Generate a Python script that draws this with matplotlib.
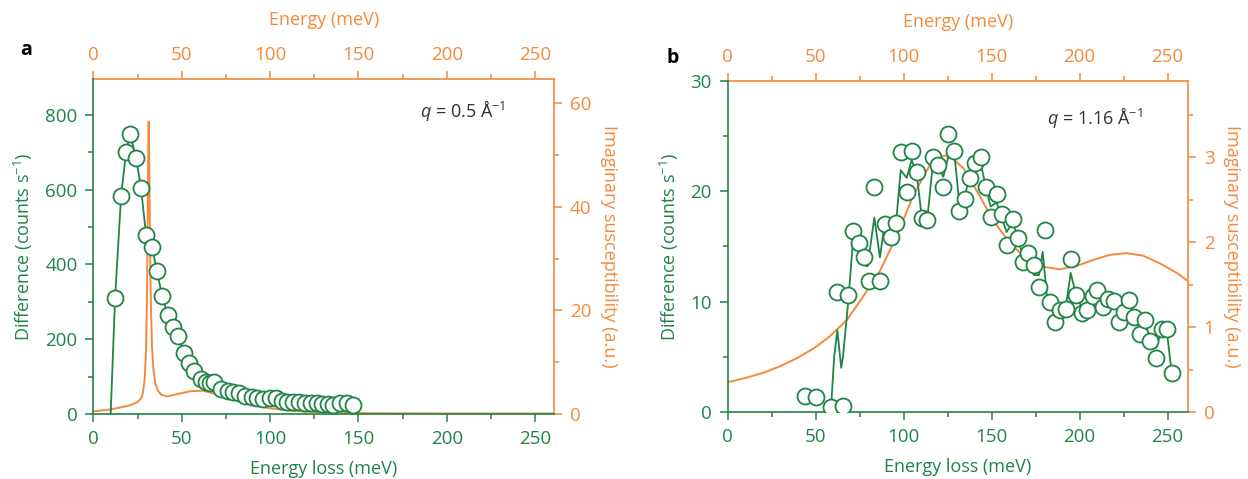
import matplotlib
matplotlib.use('Agg')
import matplotlib.pyplot as plt
from matplotlib.ticker import MultipleLocator

plt.rcParams['font.family'] = ['Open Sans', 'DejaVu Sans']
plt.rcParams['mathtext.fontset'] = 'custom'
plt.rcParams['mathtext.it'] = 'Open Sans:italic'
plt.rcParams['mathtext.rm'] = 'Open Sans'

GREEN = '#1f8445'
ORANGE = '#f5893a'
GREY = '#333333'

# ---- panel a: q = 0.5 1/A ----
a_energy = [12.3, 15.7, 18.5, 20.8, 24.2, 27.0, 29.8, 33.2, 36.0, 38.9,
            42.1, 45.3, 48.1, 51.3, 54.3, 57.2, 60.8, 63.8, 66.2, 68.0,
            72.1, 76.4, 79.0, 82.6, 85.9, 89.6, 92.5, 96.2, 100.0, 103.4,
            106.6, 109.8, 113.2, 116.6, 119.8, 123.0, 126.4, 129.3, 133.0, 135.9,
            139.6, 143.4, 147.1]
a_counts = [310, 583, 700, 749, 684, 604, 479, 447, 382, 316,
            264, 233, 208, 162, 137, 116, 93, 86, 84, 86,
            66, 62, 59, 55, 48, 46, 42, 39, 42, 42,
            36, 33, 33, 33, 30, 30, 30, 27, 27, 24,
            30, 29, 24]
# green line starts at the onset below the first point
a_line_energy = [9.8] + a_energy
a_line_counts = [0] + a_counts

a_chi_energy = [0, 10, 20, 25, 27, 28, 29, 29.8, 30.4, 30.8, 31.1, 31.3, 31.6,
                32.0, 32.5, 33.2, 34.0, 35.0, 36.5, 38.5, 42, 48, 55, 62, 70,
                80, 90, 100, 110, 120, 140, 160, 200, 261]
a_chi = [0.5, 0.9, 1.6, 2.3, 3.0, 4.0, 6.5, 12, 24, 40, 52, 56.5, 50,
         36, 22, 13, 8.5, 6.0, 4.5, 3.7, 3.4, 3.9, 4.4, 4.5, 3.8,
         2.7, 1.7, 1.1, 0.7, 0.45, 0.25, 0.15, 0.1, 0.1]

# ---- panel b: q = 1.16 1/A ----
b_energy = [43.9, 50.2, 58.7, 62.3, 65.5, 68.5, 71.4, 74.6, 77.4, 80.5,
            83.3, 86.5, 89.4, 92.6, 95.6, 98.3, 101.7, 104.5, 107.4, 110.2,
            113.4, 116.8, 119.7, 122.5, 125.3, 128.8, 131.6, 134.8, 137.7, 140.5,
            143.8, 146.8, 149.4, 152.8, 155.7, 158.5, 161.9, 165.1, 167.6, 170.8,
            174.0, 176.9, 180.3, 183.1, 186.0, 188.8, 192.2, 194.9, 197.9, 201.1,
            204.3, 207.4, 210.0, 213.1, 216.3, 219.5, 222.5, 225.3, 228.2, 230.9,
            234.3, 237.1, 239.9, 243.4, 246.6, 249.4, 252.3]
b_counts = [1.45, 1.36, 0.45, 10.84, 0.54, 10.57, 16.42, 15.28, 14.07, 11.89,
            20.41, 11.89, 17.03, 15.88, 17.09, 23.58, 19.95, 23.67, 21.77, 17.55,
            17.39, 23.07, 22.37, 20.35, 25.18, 23.67, 18.23, 19.26, 21.17, 22.53,
            23.07, 20.35, 17.69, 19.75, 17.93, 15.13, 17.45, 15.79, 13.61, 14.37,
            13.32, 11.29, 16.49, 9.99, 8.18, 9.24, 9.30, 13.83, 10.6, 8.94,
            9.24, 10.51, 11.05, 9.54, 10.21, 10.08, 8.12, 9.09, 10.14, 8.63,
            7.07, 8.33, 6.43, 4.86, 7.49, 7.49, 3.5]
# smoothed guide line as drawn in the figure (starts at 58.7 meV)
b_line_energy = [58.7, 60.5, 62.3, 64.5, 65.5, 68.5, 71.4, 74.6, 77.4, 79.5,
                 83.3, 86.5, 89.4, 92.6, 95.6, 98.3, 101.7, 104.5, 107.4, 110.2,
                 113.4, 116.8, 119.7, 122.5, 125.3, 128.8, 131.6, 134.8, 137.7, 140.5,
                 143.8, 146.8, 149.4, 152.8, 155.7, 158.5, 161.9, 165.1, 167.6, 170.8,
                 174.0, 176.9, 179.0, 181.6, 183.1, 186.0, 188.8, 192.2, 194.9, 197.9,
                 201.1, 204.3, 207.4, 210.0, 213.1, 216.3, 219.5, 222.5, 225.3, 228.2,
                 230.9, 234.3, 237.1, 239.9, 243.4, 246.6, 249.4, 252.3]
b_line_counts = [0.3, 5.0, 7.4, 4.0, 5.0, 10.0, 15.9, 15.0, 13.3, 13.2,
                 17.6, 14.0, 17.3, 16.5, 17.0, 21.9, 21.2, 22.8, 21.6, 17.7,
                 17.5, 22.8, 22.2, 21.3, 23.1, 23.4, 18.9, 19.6, 21.5, 22.0,
                 22.5, 20.3, 18.6, 19.0, 17.6, 16.3, 17.2, 15.7, 14.1, 14.3,
                 12.4, 12.4, 14.5, 10.1, 10.0, 9.2, 9.3, 9.6, 12.6, 10.6,
                 9.5, 9.6, 10.4, 10.6, 9.8, 10.1, 9.9, 9.0, 9.2, 9.8,
                 8.8, 7.6, 7.9, 6.8, 5.8, 7.4, 7.5, 3.5]

b_chi_energy = [0, 10, 20, 30, 39, 49, 58, 67.6, 77, 86.5, 96, 105.5,
                114.9, 119, 123.5, 128, 133.9, 143.3, 150.9, 160.4, 169.9, 179.3, 188.8,
                198.3, 207.7, 217.2, 226.6, 236.1, 245.5, 255, 261.6]
b_chi = [0.35, 0.40, 0.46, 0.54, 0.63, 0.75, 0.89, 1.08, 1.36, 1.66, 2.07, 2.55,
         2.91, 2.99, 3.02, 2.98, 2.87, 2.54, 2.25, 1.99, 1.80, 1.71, 1.68,
         1.72, 1.79, 1.85, 1.87, 1.84, 1.75, 1.64, 1.54]

fig = plt.figure(figsize=(12.48, 4.79), dpi=100)


def make_panel(rect, xmax, ylim, ylim_r, ymajor, yminor, rmajor, rminor):
    ax = fig.add_axes(rect)
    axr = ax.twinx()
    axt = ax.twiny()
    ax.set_zorder(axr.get_zorder() + 2)
    ax.patch.set_visible(False)
    axt.set_zorder(axr.get_zorder() + 1)

    for a in (ax, axr, axt):
        for s in a.spines.values():
            s.set_visible(False)
        a.set_xlim(0, xmax)
    ax.set_ylim(*ylim)
    axr.set_ylim(*ylim_r)

    ax.spines['left'].set_visible(True)
    ax.spines['bottom'].set_visible(True)
    ax.spines['left'].set_color(GREEN)
    ax.spines['bottom'].set_color(GREEN)
    axr.spines['right'].set_visible(True)
    axr.spines['right'].set_color(ORANGE)
    axt.spines['top'].set_visible(True)
    axt.spines['top'].set_color(ORANGE)
    for s in (ax.spines['left'], ax.spines['bottom'], axr.spines['right'], axt.spines['top']):
        s.set_linewidth(1.2)

    for a in (ax, axt):
        a.xaxis.set_major_locator(MultipleLocator(50))
        a.xaxis.set_minor_locator(MultipleLocator(25))
    ax.yaxis.set_major_locator(MultipleLocator(ymajor))
    ax.yaxis.set_minor_locator(MultipleLocator(yminor))
    axr.yaxis.set_major_locator(MultipleLocator(rmajor))
    axr.yaxis.set_minor_locator(MultipleLocator(rminor))

    ax.tick_params(axis='both', which='both', direction='out', colors=GREEN,
                   labelsize=13.5, width=1.1)
    ax.tick_params(which='major', length=5.5, pad=6)
    ax.tick_params(which='minor', length=3.5)
    axr.tick_params(axis='y', which='both', direction='out', colors=ORANGE,
                    labelsize=13.5, width=1.1)
    axr.tick_params(which='major', length=5.5, pad=6)
    axr.tick_params(which='minor', length=3.5)
    axt.tick_params(axis='x', which='both', direction='out', colors=ORANGE,
                    labelsize=13.5, width=1.1)
    axt.tick_params(which='major', length=5.5, pad=5)
    axt.tick_params(which='minor', length=3.5)
    axr.tick_params(axis='x', which='both', bottom=False, top=False,
                    labelbottom=False, labeltop=False)
    axt.tick_params(axis='y', which='both', left=False, right=False,
                    labelleft=False, labelright=False)

    ax.set_xlabel('Energy loss (meV)', color=GREEN, fontsize=13, labelpad=9)
    ax.set_ylabel('Difference (counts s$^{-1}$)', color=GREEN, fontsize=13, labelpad=7)
    axt.set_xlabel('Energy (meV)', color=ORANGE, fontsize=13, labelpad=15)
    axr.set_ylabel('Imaginary susceptibility (a.u.)', color=ORANGE, fontsize=13,
                   rotation=270, labelpad=19)
    return ax, axr


# panel a
ax, axr = make_panel([0.0748, 0.1357, 0.3691, 0.7004], 260.7, (0, 897), (0, 64.8),
                     200, 100, 20, 10)
axr.plot(a_chi_energy, a_chi, color=ORANGE, lw=1.4)
ax.plot(a_line_energy, a_line_counts, color=GREEN, lw=1.3, zorder=2)
ax.plot(a_energy, a_counts, 'o', ms=11.5, mfc='white', mec=GREEN, mew=1.3, zorder=3)
ax.text(0.709, 0.906, '$q$ = 0.5 Å$^{-1}$', transform=ax.transAxes, fontsize=13,
        color=GREY, ha='left', va='center')
fig.text(0.016, 0.885, 'a', fontsize=14, fontweight='bold', color='black')

# panel b
bx, bxr = make_panel([0.5831, 0.1399, 0.3686, 0.6916], 261.4, (0, 30), (0, 3.9),
                     10, 5, 1, 0.5)
bxr.plot(b_chi_energy, b_chi, color=ORANGE, lw=1.4)
bx.plot(b_line_energy, b_line_counts, color=GREEN, lw=1.3, zorder=2)
bx.plot(b_energy, b_counts, 'o', ms=11.5, mfc='white', mec=GREEN, mew=1.3, zorder=3)
bx.text(0.694, 0.89, '$q$ = 1.16 Å$^{-1}$', transform=bx.transAxes, fontsize=13,
        color=GREY, ha='left', va='center')
fig.text(0.534, 0.868, 'b', fontsize=14, fontweight='bold', color='black')

fig.savefig('out.png', dpi=100)
